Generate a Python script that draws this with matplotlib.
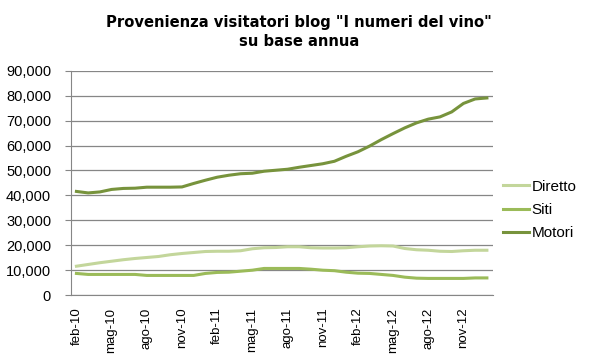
import matplotlib
matplotlib.use('Agg')
import matplotlib.pyplot as plt
from matplotlib.ticker import FuncFormatter

# mesi da feb-10 a gen-13
mesi = ['feb-10', 'mar-10', 'apr-10', 'mag-10', 'giu-10', 'lug-10', 'ago-10', 'set-10', 'ott-10',
        'nov-10', 'dic-10', 'gen-11', 'feb-11', 'mar-11', 'apr-11', 'mag-11', 'giu-11', 'lug-11',
        'ago-11', 'set-11', 'ott-11', 'nov-11', 'dic-11', 'gen-12', 'feb-12', 'mar-12', 'apr-12',
        'mag-12', 'giu-12', 'lug-12', 'ago-12', 'set-12', 'ott-12', 'nov-12', 'dic-12', 'gen-13']

diretto = [11600, 12300, 13000, 13600, 14200, 14700, 15100, 15500, 16200, 16700, 17100, 17500,
           17600, 17600, 17800, 18600, 19000, 19100, 19400, 19400, 19000, 18900, 18900, 19000,
           19400, 19700, 19800, 19700, 18700, 18200, 18000, 17600, 17500, 17800, 18000, 18000]

siti = [8700, 8300, 8300, 8300, 8300, 8300, 7900, 7900, 7900, 7900, 7900, 8700,
        9100, 9200, 9600, 10000, 10700, 10700, 10700, 10700, 10400, 10000, 9800, 9200,
        8800, 8700, 8300, 7900, 7200, 6800, 6700, 6700, 6700, 6700, 6900, 6900]

motori = [41600, 41000, 41400, 42400, 42800, 42900, 43300, 43300, 43300, 43400, 44800, 46100,
          47300, 48100, 48700, 48900, 49700, 50100, 50500, 51300, 52000, 52700, 53700, 55700,
          57500, 59800, 62400, 64800, 67100, 69100, 70600, 71500, 73500, 76900, 78700, 79100]

fig = plt.figure(figsize=(5.98, 3.63), dpi=100)
ax = fig.add_axes([0.118, 0.187, 0.706, 0.618])

x = range(len(mesi))
ax.plot(x, diretto, color='#C3D69B', lw=2.2, label='Diretto')
ax.plot(x, siti, color='#9BBB59', lw=2.2, label='Siti')
ax.plot(x, motori, color='#77933C', lw=2.2, label='Motori')

ax.set_xlim(-0.5, len(mesi) - 0.5)
ax.set_ylim(0, 90000)
ax.set_yticks(range(0, 90001, 10000))
ax.yaxis.set_major_formatter(FuncFormatter(lambda v, p: f'{int(v):,}'))
ax.grid(axis='y', color='#868686', lw=0.9)
ax.set_axisbelow(True)

ax.set_xticks(list(x)[::3])
ax.set_xticklabels(mesi[::3], rotation=90, fontsize=9.5, family='Liberation Sans')
for lab in ax.get_yticklabels():
    lab.set_family('Liberation Sans')
    lab.set_fontsize(10.5)

for s in ['top', 'right']:
    ax.spines[s].set_visible(False)
for s in ['left', 'bottom']:
    ax.spines[s].set_color('#868686')
ax.tick_params(axis='y', length=4, color='#868686', pad=10)
ax.tick_params(axis='x', length=0, pad=9)

leg = ax.legend(loc='center left', bbox_to_anchor=(1.0, 0.38), frameon=False,
                prop={'family': 'Liberation Sans', 'size': 11},
                handlelength=1.7, handletextpad=0.15, labelspacing=0.6,
                borderaxespad=0.3)

fig.text(0.5, 0.912, 'Provenienza visitatori blog "I numeri del vino"\nsu base annua',
         ha='center', va='center', fontsize=11.8, fontweight='bold',
         family='DejaVu Sans', fontstretch='condensed', linespacing=1.3)

fig.savefig('out.png', dpi=100)
